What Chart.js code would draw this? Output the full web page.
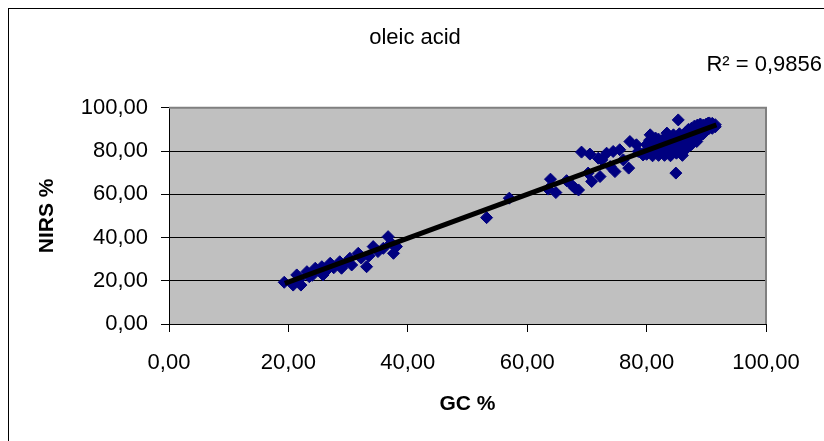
<!DOCTYPE html>
<html>
<head>
<meta charset="utf-8">
<script src="https://cdn.jsdelivr.net/npm/chart.js@4/dist/chart.umd.min.js"></script>
<style>
  html, body { margin: 0; padding: 0; background: #fff; overflow: hidden; }
  #wrap { position: relative; width: 824px; height: 441px; }
  #frame { position: absolute; left: 8px; top: 8px; width: 900px; height: 500px;
           border: 1px solid #000; pointer-events: none; }
</style>
</head>
<body>
<div id="wrap">
  <canvas id="oleicChart"></canvas>
  <div id="frame"></div>
</div>
<script>
// GC % (x) and NIRS % (y)
const gcValues = [
  19.3, 20.8, 21.4, 21.8, 22.1, 23.1, 23.5, 24.0, 24.5, 25.6, 25.8, 26.3, 27.0, 27.6,
  28.6, 28.9, 29.5, 30.3, 30.6, 31.7, 32.2, 33.1, 33.5, 34.2, 35.0, 35.9, 36.7, 37.2,
  37.6, 38.1,
  53.2, 57.0, 63.5, 63.9, 64.8, 66.6, 67.6, 68.0, 68.6, 69.1, 70.2, 70.5, 70.8, 71.9,
  72.2, 72.5, 73.3, 73.9, 74.4, 74.7, 75.5, 76.1, 77.0, 77.2, 78.3, 78.6, 79.4,
  80.0, 80.0, 80.0, 80.6, 80.5, 80.5, 81.0, 81.0, 81.0, 81.1, 81.5, 81.5, 81.5,
  82.0, 82.0, 82.0, 82.2, 82.0, 82.5, 82.5, 82.5, 83.0, 83.0, 83.0, 83.0, 83.4,
  83.5, 83.5, 83.5, 83.5, 84.0, 84.0, 84.0, 84.0, 84.2, 84.5, 84.5, 84.5, 84.5,
  84.9, 85.0, 85.0, 85.0, 85.0, 85.3, 85.5, 85.5, 85.5, 85.5, 85.9, 86.0, 86.0,
  86.0, 86.0, 86.5, 86.5, 86.5, 86.5, 86.7, 87.0, 87.0, 87.0, 87.0, 87.5, 87.5,
  87.5, 87.5, 87.8, 88.0, 88.0, 88.0, 88.0, 88.4, 88.5, 88.5, 88.5, 88.5, 88.9,
  89.0, 89.0, 89.0, 89.0, 89.5, 89.5, 89.5, 90.0, 90.0, 90.0, 90.3, 90.5, 90.5,
  90.5, 91.0, 91.0, 91.0, 91.5, 91.5
];
const nirsValues = [
  19.3, 18.0, 22.7, 20.5, 18.0, 24.2, 21.9, 22.5, 25.8, 26.5, 22.7, 24.5, 28.1, 26.0,
  28.8, 25.8, 28.0, 30.4, 27.3, 32.7, 30.5, 26.5, 31.5, 35.8, 33.5, 35.0, 40.4, 37.5,
  32.7, 35.8,
  49.2, 58.2, 62.4, 67.0, 60.8, 66.3, 63.9, 62.8, 62.0, 79.5, 69.8, 78.6, 65.9, 76.7,
  68.2, 75.9, 79.0, 72.8, 79.8, 70.5, 80.6, 75.9, 72.1, 84.4, 82.9, 79.8, 78.2,
  78.5, 80.5, 83.0, 87.5, 79.5, 85.0, 77.8, 80.0, 82.5, 79.0, 81.0, 84.0, 86.0,
  78.0, 80.5, 83.0, 84.4, 85.5, 79.5, 82.0, 84.5, 78.0, 81.0, 83.5, 86.0, 88.3,
  80.0, 82.5, 85.0, 87.0, 77.8, 81.0, 83.5, 86.0, 79.8, 80.0, 82.5, 85.0, 87.5,
  69.8, 79.0, 81.5, 84.0, 86.5, 94.4, 80.5, 83.0, 85.5, 88.0, 79.0, 78.0, 82.0,
  84.5, 87.0, 81.0, 83.5, 86.0, 88.5, 85.2, 82.0, 85.0, 87.5, 90.0, 83.0, 86.0,
  88.5, 90.5, 89.8, 85.5, 87.5, 89.5, 91.5, 84.4, 86.0, 88.0, 90.0, 92.0, 91.3,
  87.0, 89.0, 91.0, 92.5, 88.0, 90.0, 92.0, 89.5, 91.0, 92.5, 92.9, 90.5, 92.0,
  93.0, 90.5, 91.8, 92.8, 91.2, 92.2
];

// linear trendline end points
const trendX = [19.4, 91.7];
const trendY = [18.8, 92.1];

const axisTicks = [0, 20, 40, 60, 80, 100];
const chartTitle = 'oleic acid';
const rSquaredLabel = 'R² = 0,9856';

const fmt = v => v.toFixed(2).replace('.', ',');

// grey plot area and the grey top/right edge
const plotArea = {
  id: 'plotArea',
  beforeDraw(chart) {
    const { ctx, chartArea: a } = chart;
    ctx.save();
    ctx.fillStyle = '#C0C0C0';
    ctx.fillRect(a.left, a.top, a.right - a.left, a.bottom - a.top);
    ctx.restore();
  },
  afterDraw(chart) {
    const { ctx, chartArea: a } = chart;
    ctx.save();
    ctx.strokeStyle = '#808080';
    ctx.lineWidth = 2;
    ctx.beginPath();
    ctx.moveTo(a.left, a.top);
    ctx.lineTo(a.right, a.top);
    ctx.lineTo(a.right, a.bottom);
    ctx.stroke();
    ctx.restore();
  }
};

const font = { family: "'Liberation Sans', Arial, sans-serif", size: 22 };

new Chart(document.getElementById('oleicChart'), {
  type: 'scatter',
  data: {
    datasets: [
      {
        type: 'line',
        data: trendX.map((x, i) => ({ x, y: trendY[i] })),
        borderColor: '#000',
        borderWidth: 5,
        pointRadius: 0,
        order: 0
      },
      {
        data: gcValues.map((x, i) => ({ x, y: nirsValues[i] })),
        pointStyle: 'rectRot',
        pointRadius: 6,
        pointBackgroundColor: '#000080',
        pointBorderColor: '#000080',
        pointBorderWidth: 1,
        order: 1
      }
    ]
  },
  options: {
    responsive: true,
    maintainAspectRatio: false,
    animation: false,
    layout: { padding: { left: 8, right: 2, top: 0, bottom: 0 } },
    plugins: {
      legend: { display: false },
      tooltip: { enabled: false },
      title: {
        display: true,
        text: chartTitle,
        color: '#000',
        font: { ...font, weight: 'normal' },
        padding: { top: 25, bottom: 0 }
      },
      subtitle: {
        display: true,
        text: rSquaredLabel,
        align: 'end',
        color: '#000',
        font: font,
        padding: { top: 0, bottom: 30 }
      }
    },
    scales: {
      x: {
        type: 'linear',
        min: 0,
        max: 100,
        afterBuildTicks: s => { s.ticks = axisTicks.map(v => ({ value: v })); },
        afterFit: s => { s.height = 117; },
        grid: { drawOnChartArea: false, color: '#000', tickLength: 8 },
        border: { color: '#000', width: 1 },
        ticks: { color: '#000', font: font, padding: 18, maxRotation: 0, callback: fmt },
        title: {
          display: true, text: 'GC %', color: '#000',
          font: { ...font, size: 21, weight: 'bold' },
          padding: { top: 0, bottom: 24 }
        }
      },
      y: {
        type: 'linear',
        min: 0,
        max: 100,
        afterBuildTicks: s => { s.ticks = axisTicks.map(v => ({ value: v })); },
        afterFit: s => { s.width = 161; },
        grid: { color: '#000', tickLength: 8 },
        border: { color: '#000', width: 1 },
        ticks: { color: '#000', font: font, padding: 13, callback: fmt },
        title: {
          display: true, text: 'NIRS %', color: '#000',
          font: { ...font, size: 21, weight: 'bold' },
          padding: { top: 27, bottom: 0 }
        }
      },
      // empty box that keeps the right margin free
      spacer: {
        type: 'linear',
        position: 'right',
        grid: { display: false },
        border: { display: false },
        ticks: { display: false },
        afterFit: s => { s.width = 56; }
      }
    }
  },
  plugins: [plotArea]
});
</script>
</body>
</html>
